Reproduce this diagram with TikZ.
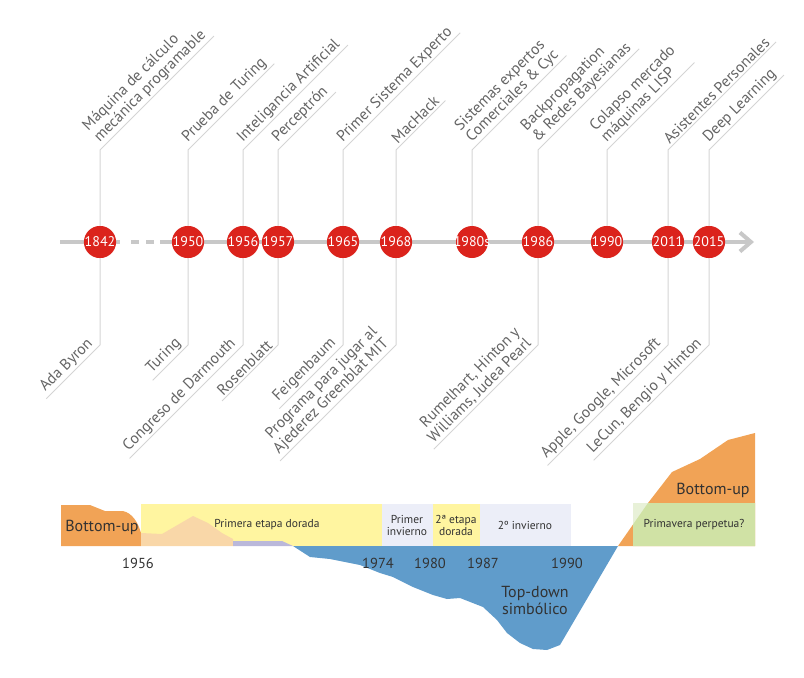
\documentclass[tikz,border=0pt]{standalone}
\usepackage{fontspec}
\setmainfont{PT Sans}
\usetikzlibrary{arrows.meta,positioning}
\definecolor{tlred}{RGB}{219,35,28}
\definecolor{axisgray}{RGB}{200,200,200}
\definecolor{stemgray}{RGB}{212,212,212}
\definecolor{txtgray}{RGB}{100,100,100}
\definecolor{chartink}{RGB}{50,50,50}
\definecolor{orangec}{RGB}{241,163,86}
\definecolor{peachc}{RGB}{249,215,168}
\definecolor{yellowc}{RGB}{255,245,160}
\definecolor{lavband}{RGB}{236,238,248}
\definecolor{lilacc}{RGB}{186,184,218}
\definecolor{bluec}{RGB}{96,156,203}
\definecolor{greenc}{RGB}{208,226,165}
\definecolor{palegreen}{RGB}{232,241,216}
\tikzset{yr/.style={circle,fill=tlred,text=white,minimum size=32pt,inner sep=0pt,
       font=\fontsize{14}{15}\selectfont},
     wideyr/.style={yr,inner sep=-3.5pt},
     axis/.style={draw=axisgray,line width=4pt},
     stem/.style={draw=stemgray,line width=1pt},
     up/.style={rotate=45,anchor=south west,align=left,text=txtgray,
       inner xsep=5pt,inner ysep=2pt,font=\fontsize{15.5}{16}\selectfont},
     down/.style={rotate=45,anchor=south east,align=right,text=txtgray,
       inner xsep=4pt,inner ysep=2pt,font=\fontsize{15.5}{16}\selectfont},
     era/.style={align=center,text=chartink,inner sep=0pt,font=\fontsize{11.5}{12}\selectfont},
     trend/.style={align=center,text=chartink,inner sep=0pt,font=\fontsize{16}{17}\selectfont},
     chartyear/.style={text=chartink,inner sep=0pt,font=\fontsize{14.5}{15}\selectfont}
}
\begin{document}
\begin{tikzpicture}[x=1pt,y=-1pt]
    \useasboundingbox (0,0) rectangle (804,678);
    \coordinate (tstart) at (60,242);
    \coordinate (tgap) at (120,242);
    \coordinate (tresume) at (160,242);
    \coordinate (tend) at (754,242);
    \draw[axis] (tstart) -- (tgap);
    \draw[axis,dash pattern=on 8pt off 7pt,shorten <=11pt,shorten >=6pt] (tgap) -- (tresume);
    \draw[axis,-{Straight Barb[length=11pt,width=19pt]}] (tresume) -- (tend);

    \node[yr] (c1842) at (100,242) {1842};
    \node[yr] (c1950) at (188,242) {1950};
    \node[yr] (c1956) at (243,242) {1956};
    \node[yr] (c1957) at (278,242) {1957};
    \node[yr] (c1965) at (343,242) {1965};
    \node[yr] (c1968) at (396,242) {1968};
    \node[wideyr] (c1980) at (472,242) {1980s};
    \node[yr] (c1986) at (538,242) {1986};
    \node[yr] (c1990) at (607,242) {1990};
    \node[yr] (c2011) at (668,242) {2011};
    \node[yr] (c2015) at (709,242) {2015};

    \node[up] (t1842) at (c1842 |- 0,150) {Máquina de cálculo\\mecánica programable};
    \node[up] (t1950) at (c1950 |- 0,150) {Prueba de Turing};
    \node[up] (t1956) at (c1956 |- 0,150) {Inteligancia Artificial};
    \node[up] (t1957) at (c1957 |- 0,150) {Perceptrón};
    \node[up] (t1965) at (c1965 |- 0,150) {Primer Sistema Experto};
    \node[up] (t1968) at (c1968 |- 0,150) {MacHack};
    \node[up] (t1980) at (c1980 |- 0,150) {Sistemas expertos\\Comerciales \& Cyc};
    \node[up] (t1986) at (c1986 |- 0,150) {Backpropagation\\\& Redes Bayesianas};
    \node[up] (t1990) at (c1990 |- 0,150) {Colapso mercado\\máquinas LISP};
    \node[up] (t2011) at (c2011 |- 0,150) {Asistentes Personales};
    \node[up] (t2015) at (c2015 |- 0,150) {Deep Learning};
    \foreach \n in {1842,1950,1956,1957,1965,1968,1980,1986,1990,2011,2015}
      \draw[stem] (c\n) -- (t\n.south west) -- (t\n.south east);

    \node[down] (b1842) at (c1842 |- 0,345) {Ada Byron};
    \node[down] (b1950) at (c1950 |- 0,345) {Turing};
    \node[down] (b1956) at (c1956 |- 0,345) {Congreso de Darmouth};
    \node[down] (b1957) at (c1957 |- 0,345) {Rosenblatt};
    \node[down] (b1965) at (c1965 |- 0,345) {Feigenbaum};
    \node[down] (b1968) at (c1968 |- 0,345) {Programa para jugar al\\Ajederez Greenblat MIT};
    \node[down] (b1986) at (c1986 |- 0,345) {Rumelhart, Hinton y\\Williams, Judea Pearl};
    \node[down] (b2011) at (c2011 |- 0,345) {Apple, Google, Microsoft};
    \node[down] (b2015) at (c2015 |- 0,345) {LeCun, Bengio y Hinton};
    \foreach \n in {1842,1950,1956,1957,1965,1968,1986,2011,2015}
      \draw[stem] (c\n) -- (b\n.south east) -- (b\n.south west);

    \fill[orangec] (61,546) -- (61,505) -- (90,505) -- (105,511) -- (123,511)
      .. controls (132,513) and (138,522) .. (141,533) -- (141,546) -- cycle;
    \fill[yellowc] (141,504) rectangle (382,546);
    \fill[peachc] (141,533) -- (162,534) -- (193,516) -- (208,523) -- (222,533)
      -- (233,539) -- (233,546) -- (141,546) -- cycle;
    \fill[lilacc] (233,541) -- (282,541) -- (293,546) -- (233,546) -- cycle;
    \fill[lavband] (382,504) rectangle (433,546);
    \fill[yellowc] (433,504) rectangle (480,546);
    \fill[lavband] (480,504) rectangle (571,546);
    \fill[bluec] (293,546) -- (310,557) -- (330,559) -- (360,565) -- (380,573) -- (393,577)
      -- (413,587) -- (433,595) -- (447,599) -- (460,598) -- (483,607) -- (497,620)
      -- (507,633) -- (520,643) -- (533,649) -- (547,650) -- (560,645) -- (618,546) -- cycle;
    \fill[orangec] (618,546) -- (648,503) -- (672,472) -- (700,459) -- (728,440)
      -- (755,433) -- (755,546) -- cycle;
    \fill[palegreen] (633,503) rectangle (755,546);
    \fill[greenc] (633,524.5) -- (648,503) -- (755,503) -- (755,546) -- (633,546) -- cycle;

    \node[trend] (bottomup1) at (102,527) {Bottom-up};
    \node[era] (gold1) at (267,525) {Primera etapa dorada};
    \node[era] (winter1) at (407,525) {Primer\\invierno};
    \node[era] (gold2) at (456,525) {2ª etapa\\dorada};
    \node[era] (winter2) at (525,525) {2º invierno};
    \node[era] (spring) at (694,525) {Primavera perpetua?};
    \node[trend] (bottomup2) at (713,490) {Bottom-up};
    \node[trend] (topdown) at (535,600) {Top-down\\simbólico};

    \node[chartyear] (y1956) at (138,563) {1956};
    \node[chartyear] (y1974) at (378,563) {1974};
    \node[chartyear] (y1980) at (430,563) {1980};
    \node[chartyear] (y1987) at (483,563) {1987};
    \node[chartyear] (y1990) at (567,563) {1990};
  \end{tikzpicture}
\end{document}
